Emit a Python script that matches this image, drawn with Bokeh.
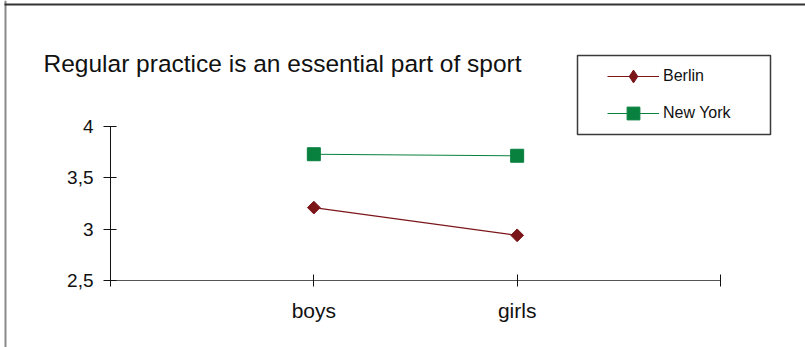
from bokeh.plotting import figure
from bokeh.models import (Range1d, FixedTicker, Legend, LegendItem, Label,
                          BoxAnnotation)
from bokeh.embed import file_html
from bokeh.resources import INLINE

# --- data -------------------------------------------------------------
categories = ["boys", "girls"]
berlin = [3.21, 2.94]
new_york = [3.73, 3.715]
y_ticks = [2.5, 3.0, 3.5, 4.0]
y_tick_labels = ["2,5", "3", "3,5", "4"]
title_text = "Regular practice is an essential part of sport"

# --- layout (pixels, measured from the top-left of the canvas) ----------
W, H = 805, 347
ORIGIN_X, ORIGIN_Y = 110, 280     # where the two axes meet
X_SPAN_PX = 610                   # width of the category axis (0..3)
Y_SPAN_PX = 154                   # height of the value axis (2.5..4)

n_slots = len(categories) + 1
x_pos = list(range(1, len(categories) + 1))
y_lo, y_hi = y_ticks[0], y_ticks[-1]

x_per_px = n_slots / X_SPAN_PX
y_per_px = (y_hi - y_lo) / Y_SPAN_PX


def px_x(px):
    return (px - ORIGIN_X) * x_per_px


def px_y(py):
    return y_lo + (ORIGIN_Y - py) * y_per_px


FONT = "Liberation Sans"
BERLIN_C = "#7B1518"
NY_C = "#08813F"
INK = "#111111"

p = figure(width=W, height=H, output_backend="svg", toolbar_location=None,
           x_range=Range1d(px_x(0), px_x(W)),
           y_range=Range1d(px_y(H), px_y(0)),
           min_border=0)
p.outline_line_color = None
p.grid.visible = False
p.background_fill_color = "white"
p.border_fill_color = "white"

# axes, pinned to the origin inside the canvas
xa = p.xaxis[0]
xa.fixed_location = y_lo
xa.ticker = FixedTicker(ticks=list(range(0, n_slots + 1)))
overrides = {0: "", n_slots: ""}
overrides.update({i + 1: c for i, c in enumerate(categories)})
xa.major_label_overrides = overrides
xa.bounds = (0, n_slots)
xa.major_tick_in = 6
xa.major_tick_out = 6
xa.minor_tick_line_color = None
xa.axis_line_color = "#555555"
xa.major_tick_line_color = INK
xa.major_label_text_font = FONT
xa.major_label_text_font_size = "21px"
xa.major_label_text_color = INK
xa.major_label_standoff = 12

ya = p.yaxis[0]
ya.fixed_location = 0
ya.ticker = FixedTicker(ticks=y_ticks)
ya.major_label_overrides = dict(zip(y_ticks, y_tick_labels))
ya.bounds = (y_lo, y_hi)
ya.major_tick_in = 6
ya.major_tick_out = 7
ya.minor_tick_line_color = None
ya.axis_line_color = INK
ya.major_tick_line_color = INK
ya.major_label_text_font = FONT
ya.major_label_text_font_size = "19px"
ya.major_label_text_color = INK
ya.major_label_standoff = 10

# series
r_b_line = p.line(x_pos, berlin, line_color=BERLIN_C, line_width=1.1)
# plain diamond underneath serves as the legend key
r_b_key = p.scatter(x_pos, berlin, marker="diamond", size=11,
                    fill_color=BERLIN_C, line_color=BERLIN_C)
p.scatter(x_pos, berlin, marker="square", angle=0.785398,
          size=9, fill_color=BERLIN_C, line_color=BERLIN_C)
r_n_line = p.line(x_pos, new_york, line_color=NY_C, line_width=1.1)
r_n_pts = p.scatter(x_pos, new_york, marker="square", size=13,
                    fill_color=NY_C, line_color=NY_C)

# title
p.add_layout(Label(x=px_x(43), y=px_y(63), text=title_text,
                   text_font=FONT, text_font_size="24.5px",
                   text_color=INK, text_align="left",
                   text_baseline="alphabetic"))

# legend frame
p.add_layout(BoxAnnotation(left=px_x(577), right=px_x(770),
                           top=px_y(55), bottom=px_y(134),
                           fill_alpha=0, line_color="#3a3a3a",
                           line_alpha=1, line_width=1.5))

KEY_H = 32
legend = Legend(items=[LegendItem(label="Berlin", renderers=[r_b_line, r_b_key]),
                       LegendItem(label="New York", renderers=[r_n_line, r_n_pts])],
                location=(607, H - (113 + KEY_H // 2)),
                padding=0, margin=0, spacing=37 - KEY_H,
                glyph_width=52, glyph_height=KEY_H, label_height=KEY_H,
                label_standoff=4, border_line_color=None,
                background_fill_alpha=0,
                label_text_font=FONT, label_text_font_size="16px",
                label_text_color=INK)
p.add_layout(legend, "center")

# outer chart border (left and top edges)
p.add_layout(BoxAnnotation(left=px_x(4), right=px_x(6), top=px_y(0),
                           bottom=px_y(H + 5), fill_color="#8a8a8a",
                           fill_alpha=1, line_color=None))
p.add_layout(BoxAnnotation(left=px_x(4), right=px_x(W + 5), top=px_y(3),
                           bottom=px_y(5), fill_color="#333333",
                           fill_alpha=1, line_color=None))

open("out.html", "w").write(file_html(p, INLINE))
